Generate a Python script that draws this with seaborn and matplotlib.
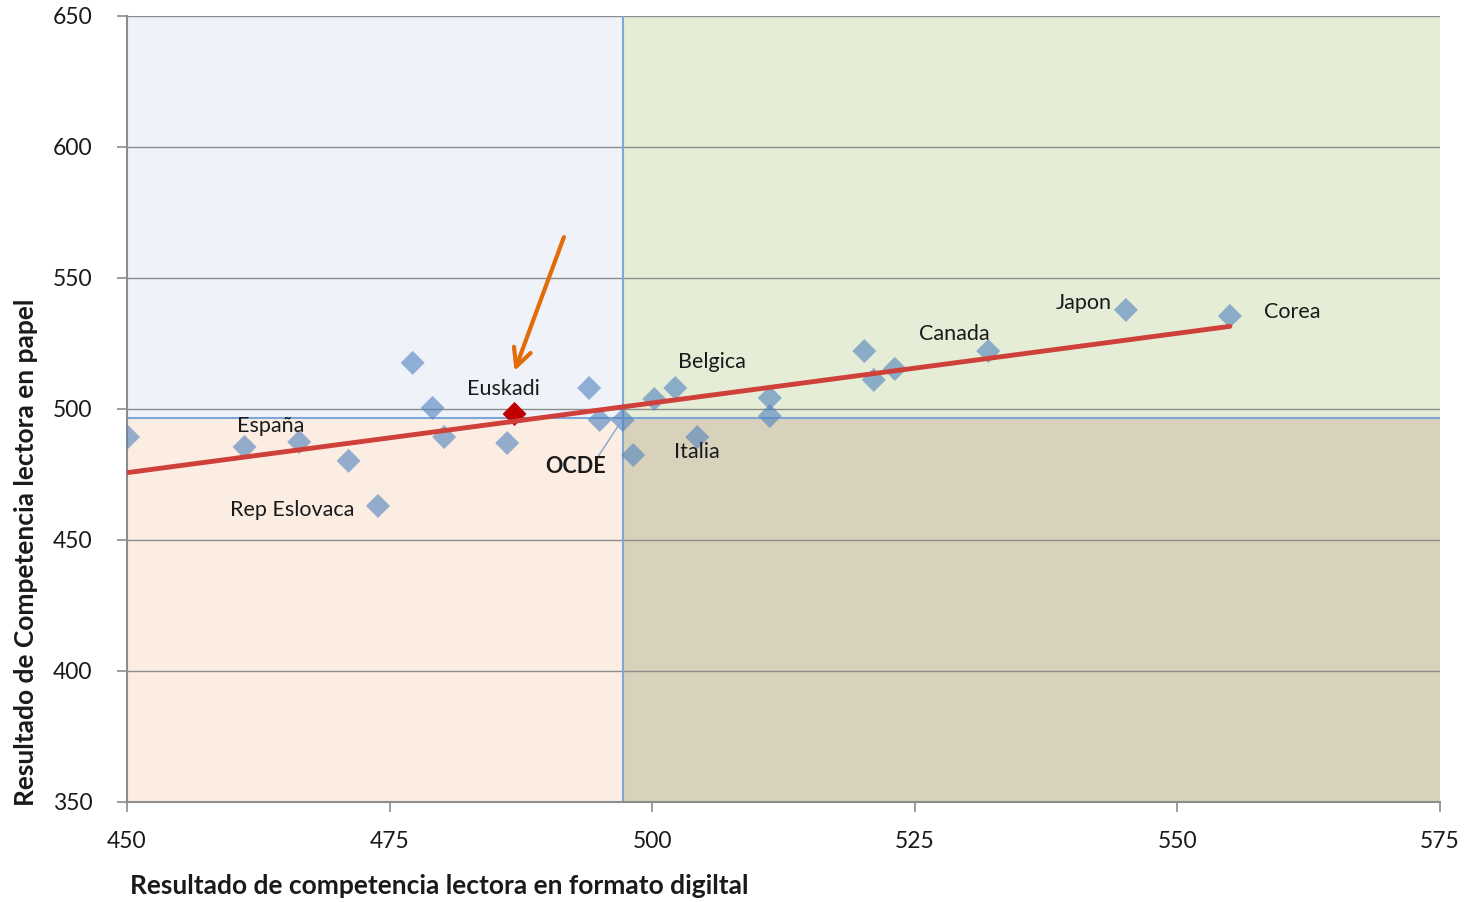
import numpy as np
import pandas as pd
import matplotlib
matplotlib.use("Agg")
import matplotlib.pyplot as plt
import seaborn as sns

# data
digital = [450.1, 461.2, 466.4, 471.1, 473.9, 477.2, 479.1, 480.2, 486.2, 486.9,
           494.0, 495.0, 497.2, 498.2, 500.2, 502.2, 504.3, 511.2, 511.2, 520.2,
           521.1, 523.1, 532.0, 545.1, 555.0]
papel = [489.3, 485.5, 487.4, 480.2, 463.0, 517.6, 500.4, 489.3, 487.0, 498.1,
         508.0, 495.8, 495.8, 482.4, 503.8, 508.0, 489.3, 504.2, 497.3, 522.1,
         511.1, 515.3, 522.1, 537.8, 535.5]
pais = ["", "España", "", "", "Rep Eslovaca", "", "", "", "", "Euskadi",
        "", "", "OCDE", "", "", "", "Italia", "", "", "",
        "", "", "Canada", "Japon", "Corea"]

ocde_x, ocde_y = 497.2, 496.4

label_names = ["España", "Rep Eslovaca", "Euskadi", "Italia", "Belgica", "Canada", "Japon", "Corea"]
label_x = [463.7, 465.7, 485.8, 504.3, 505.7, 528.8, 541.1, 560.9]
label_y = [493.5, 461.5, 507.6, 483.6, 518.0, 528.6, 540.5, 537.0]

df = pd.DataFrame({"digital": digital, "papel": papel, "pais": pais})

sns.set_style("white")
plt.rcParams["font.family"] = ["Lato", "DejaVu Sans"]

fig = plt.figure(figsize=(14.64, 9.02), dpi=100)
ax = fig.add_axes([0.0867, 0.1109, 0.8969, 0.8714])

xmin, xmax, ymin, ymax = 450, 575, 350, 650
ax.set_xlim(xmin, xmax)
ax.set_ylim(ymin, ymax)

# quadrants
ax.fill_between([xmin, ocde_x], ocde_y, ymax, color="#eff2f9", zorder=0, lw=0)
ax.fill_between([ocde_x, xmax], ocde_y, ymax, color="#e5edd7", zorder=0, lw=0)
ax.fill_between([xmin, ocde_x], ymin, ocde_y, color="#fcede2", zorder=0, lw=0)
ax.fill_between([ocde_x, xmax], ymin, ocde_y, color="#d8d1bc", zorder=0, lw=0)

for v in [400, 450, 500, 550, 600, 650]:
    ax.axhline(v, color="#8c8c8c", lw=1, zorder=1)
ax.axvline(ocde_x, color="#7fa6d6", lw=1.5, zorder=2)
ax.axhline(ocde_y, color="#7fa6d6", lw=1.5, zorder=2)

others = df[df["pais"] != "Euskadi"]
sns.scatterplot(data=others, x="digital", y="papel", marker="D", s=150,
                color="#4f81bd", alpha=0.6, edgecolor="none", ax=ax, zorder=3)
sns.scatterplot(data=df[df["pais"] == "Euskadi"], x="digital", y="papel", marker="D",
                s=150, color="#c00000", edgecolor="none", ax=ax, zorder=3)

sns.regplot(data=df, x="digital", y="papel", scatter=False, ci=None, truncate=True,
            color="#d0403a", line_kws={"lw": 3.5, "zorder": 4}, ax=ax)

for name, lx, ly in zip(label_names, label_x, label_y):
    ax.text(lx, ly, name, ha="center", va="center", fontsize=15.5, color="#1a1a1a", zorder=5)
ax.text(492.7, 478.2, "OCDE", ha="center", va="center", fontsize=15.5,
        fontweight="bold", color="#1a1a1a", zorder=5)
ax.plot([494.8, 497.0], [481.5, 495.0], color="#7fa6d6", lw=1, zorder=4)

ax.annotate("", xy=(486.9, 514.5), xytext=(491.6, 565.6),
            arrowprops=dict(arrowstyle="->", color="#e36c0a", lw=3, mutation_scale=32,
                            shrinkA=0, shrinkB=0),
            zorder=6)

ax.set_xticks(np.arange(450, 576, 25))
ax.set_yticks(np.arange(350, 651, 50))
ax.tick_params(axis="both", labelsize=16.5, colors="#8c8c8c", labelcolor="#1a1a1a",
               length=7, width=1.2, direction="out", bottom=True, left=True)
ax.tick_params(axis="x", pad=14)
ax.tick_params(axis="y", pad=18)

for side in ["top", "right"]:
    ax.spines[side].set_visible(False)
for side in ["left", "bottom"]:
    ax.spines[side].set_color("#8c8c8c")
    ax.spines[side].set_linewidth(1.5)

ax.set_xlabel("")
ax.set_ylabel("")
fig.text(26 / 1464, 1 - 552 / 902, "Resultado de Competencia lectora en papel",
         fontsize=19, fontweight="bold", color="#1a1a1a", rotation=90,
         ha="center", va="center")
fig.text(130 / 1464, 1 - 886 / 902, "Resultado de competencia lectora en formato digiltal",
         fontsize=19, fontweight="bold", color="#1a1a1a", ha="left", va="center")

fig.savefig("out.png", dpi=100)
